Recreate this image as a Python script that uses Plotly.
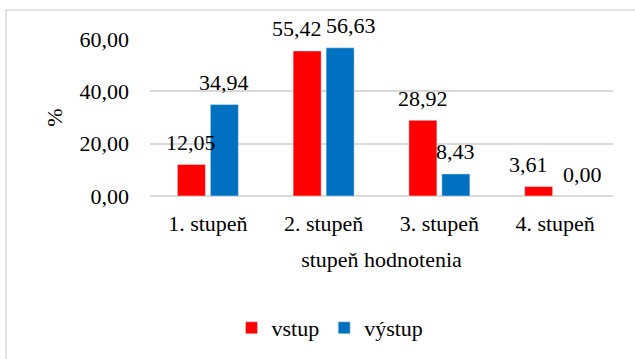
import plotly.graph_objects as go

categories = ["1. stupeň", "2. stupeň", "3. stupeň", "4. stupeň"]
vstup = [12.05, 55.42, 28.92, 3.61]
vystup = [34.94, 56.63, 8.43, 0.00]
y_ticks = [0, 20, 40, 60]

FONT = "Liberation Serif, Times New Roman, serif"
FS = 22

fig = go.Figure()
fig.add_trace(go.Bar(x=categories, y=vstup, name="vstup", marker_color="#FF0000"))
fig.add_trace(go.Bar(x=categories, y=vystup, name="výstup", marker_color="#0070C0"))

W, H = 635, 359
L, R, T, B = 150, 22, 39, 163
pw, ph = W - L - R, H - T - B

def px(x):
    return (x - L) / pw

def py(y):
    return (H - B - y) / ph

annotations = []
for i, c in enumerate(categories):
    a, b = vstup[i], vystup[i]
    spread = 27 if abs(a - b) < 5 else 16.5
    for v, shift in ((a, -spread), (b, spread)):
        annotations.append(dict(x=c, y=v, xref="x", yref="y", text=f"{v:.2f}".replace(".", ","),
                                showarrow=False, xshift=shift, yshift=22, yanchor="middle",
                                font=dict(family=FONT, size=FS, color="#000000")))

fig.update_layout(
    width=W, height=H,
    margin=dict(l=L, r=R, t=T, b=B, autoexpand=False),
    paper_bgcolor="white", plot_bgcolor="white",
    font=dict(family=FONT, size=FS, color="#000000"),
    separators=", ",
    barmode="group", bargap=0.43, bargroupgap=0.15,
    showlegend=True,
    legend=dict(orientation="h", x=px(330), xanchor="center", y=py(328), yanchor="middle",
                font=dict(family=FONT, size=FS, color="#000000"), itemwidth=30, traceorder="normal",
                bgcolor="rgba(0,0,0,0)"),
    xaxis=dict(title=dict(text="stupeň hodnotenia", standoff=16, font=dict(family=FONT, size=FS)),
               showgrid=False, showline=False, ticks="", ticklabelstandoff=12,
               tickfont=dict(family=FONT, size=FS)),
    yaxis=dict(title=dict(text="%", standoff=10, font=dict(family=FONT, size=FS)),
               range=[0, 60], tickvals=y_ticks, tickformat=".2f", ticklabelstandoff=20,
               showgrid=True, gridcolor="#D9D9D9", gridwidth=1.5,
               zeroline=True, zerolinecolor="#D9D9D9", zerolinewidth=1.5,
               showline=False, ticks="", tickfont=dict(family=FONT, size=FS)),
    annotations=annotations,
    shapes=[dict(type="rect", xref="paper", yref="paper",
                 x0=px(6), x1=px(640), y0=py(362), y1=py(10),
                 line=dict(color="#D9D9D9", width=1.5), fillcolor="rgba(0,0,0,0)", layer="below")],
)

fig.write_html("out.html", config={"displayModeBar": False},
               post_script="document.body.style.margin='0';")
